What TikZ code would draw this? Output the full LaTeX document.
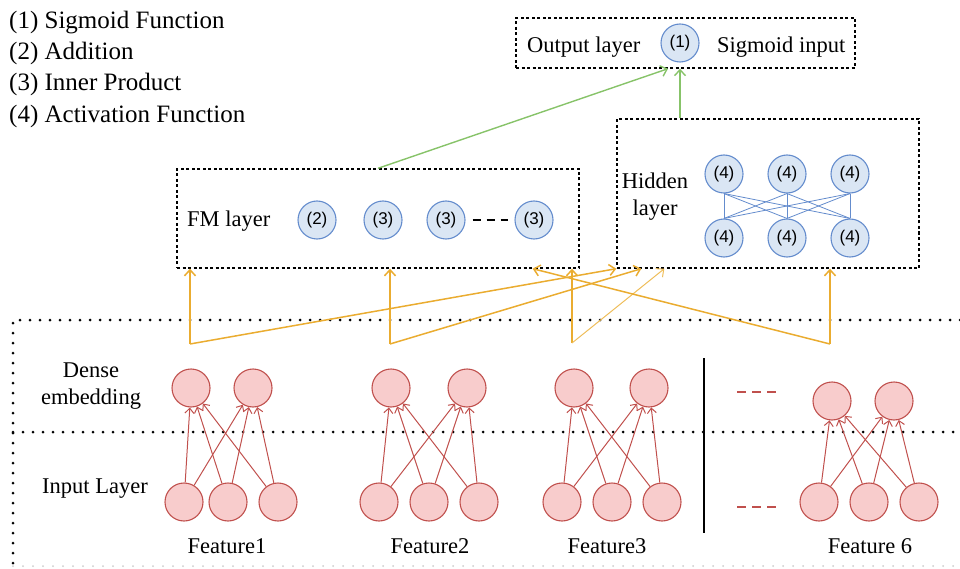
\documentclass[tikz,border=0pt]{standalone}
\usepackage{fontspec}
\setmainfont{Liberation Serif}
\newfontfamily\circfont{Liberation Sans}
\usetikzlibrary{arrows.meta,positioning}

\definecolor{cirblue}{RGB}{218,230,244}
\definecolor{edgeblue}{RGB}{100,140,205}
\definecolor{cirred}{RGB}{248,204,204}
\definecolor{edgered}{RGB}{192,80,77}
\definecolor{linkgold}{RGB}{234,172,48}
\definecolor{linkgreen}{RGB}{135,195,105}

\tikzset{
  opnode/.style={circle,draw=edgeblue,fill=cirblue,line width=1.1pt,minimum size=38pt,inner sep=0pt,font=\circfont\fontsize{17}{20}\selectfont},
  featnode/.style={circle,draw=edgered,fill=cirred,line width=1.1pt,minimum size=38pt,inner sep=0pt},
  layerbox/.style={draw,line width=1.4pt,dash pattern=on 3pt off 2.5pt,inner sep=0pt},
  lbl/.style={font=\fontsize{22.5}{27}\selectfont,inner sep=0pt},
  framedots/.style={line width=3pt,line cap=round,dash pattern=on 0pt off 10pt},
  redlink/.style={draw=edgered,line width=1pt,-{Straight Barb[length=5pt,width=9pt]}},
  goldlink/.style={draw=linkgold,line width=1.5pt,-{Straight Barb[length=6pt,width=11pt]}},
  greenlink/.style={draw=linkgreen,line width=1.4pt,-{Straight Barb[length=6pt,width=11pt]}},
}

\begin{document}
\begin{tikzpicture}[x=1pt,y=-1pt]
  \useasboundingbox (0,0) rectangle (960,569);

  % Legend
  \foreach \i/\txt/\y in {1/Sigmoid Function/29,2/Addition/60,3/Inner Product/91,4/Activation Function/123}
    \node[anchor=base west,inner sep=0pt,font=\fontsize{25}{30}\selectfont] (leg\i) at (9,\y) {(\i) \txt};

  % Output layer
  \node[layerbox,minimum width=339pt,minimum height=50pt] (outbox) at (685.5,43) {};
  \node[opnode] (o1) at (680,43) {(1)};
  \node[lbl,anchor=base west] (outtxt) at (527,53) {Output layer};
  \node[lbl,anchor=base west] (sigtxt) at (717,53) {Sigmoid input};

  % FM layer
  \node[layerbox,minimum width=402pt,minimum height=99pt] (fm) at (378,218.5) {};
  \node[lbl,anchor=base west] (fmtxt) at (187,226) {FM layer};
  \foreach \n/\x/\t in {a/317/2,b/383/3,c/446/3,d/534/3}
    \node[opnode] (fm\n) at (\x,220) {(\t)};
  \draw[line width=2.3pt,dash pattern=on 8pt off 6pt] ([xshift=7pt]fmc.east) -- ([xshift=-6pt]fmd.west);

  % Hidden layer
  \node[layerbox,minimum width=302pt,minimum height=149pt] (hid) at (768,193.5) {};
  \node[lbl,align=center] (hidtxt) at (655,197) {Hidden\\layer};
  \foreach \i/\x in {1/724,2/787,3/850} {
    \node[opnode] (ht\i) at (\x,174) {(4)};
    \node[opnode] (hb\i) at (\x,238) {(4)};
  }
  \foreach \a in {1,2,3}
    \foreach \b in {1,2,3}
      \draw[edgeblue,line width=0.8pt] (ht\a.south) -- (hb\b.north);

  % Green links to the output
  \draw[greenlink] (fm.north) -- ([xshift=-17.5pt]outbox.south);
  \draw[greenlink] (hid.north -| o1) -- (outbox.south -| o1);

  % Dotted frame
  \draw[framedots] (960,320) -- (13,320) -- (13,569);
  \draw[framedots] (13,432) -- (960,432);
  \draw[framedots,gray!40,line width=2pt] (13,566) -- (960,566);
  \node[lbl,align=center] (densetxt) at (91,386) {Dense\\embedding};
  \node[lbl,anchor=base west] (inputtxt) at (42,493) {Input Layer};

  % Features
  \foreach \f/\da/\db/\dy/\ia/\ib/\ic/\lx/\lab in {1/191/253/388/184/228/278/227/Feature1,
      2/391/467/388/379/429/479/430/Feature2,
      3/574/649/388/562/612/662/607/Feature3,
      6/832/894/401/819/869/919/870/Feature 6} {
    \node[featnode] (emb\f1) at (\da,\dy) {};
    \node[featnode] (emb\f2) at (\db,\dy) {};
    \node[featnode] (in\f1) at (\ia,502) {};
    \node[featnode] (in\f2) at (\ib,502) {};
    \node[featnode] (in\f3) at (\ic,502) {};
    \node[lbl,anchor=base] (lab\f) at (\lx,553) {\lab};
    \foreach \i in {1,2,3}
      \foreach \d in {1,2}
        \draw[redlink] (in\f\i) -- (emb\f\d);
  }

  % Separator and ellipsis dashes
  \draw[line width=2pt] (704,358) -- (704,533);
  \draw[edgered,line width=2.5pt,dash pattern=on 9pt off 6pt] (737,392) -- (778,392);
  \draw[edgered,line width=2.5pt,dash pattern=on 9pt off 6pt] (737,507) -- (778,507);

  % Gold links from the embeddings
  \coordinate (j1) at (190,344);
  \coordinate (j2) at (390,344);
  \coordinate (j3) at (572,343);
  \coordinate (j6) at (830,344);
  \draw[goldlink] (j1) -- (j1 |- fm.south);
  \draw[goldlink] (j1) -- (hid.south west);
  \draw[goldlink] (j2) -- (j2 |- fm.south);
  \draw[goldlink] (j2) -- ([xshift=25pt]hid.south west);
  \draw[goldlink] (j3) -- (j3 |- fm.south);
  \draw[goldlink,draw=linkgold!80,line width=1pt] (j3) -- ([xshift=48pt]hid.south west);
  \draw[goldlink] (j6) -- (j6 |- hid.south);
  \draw[goldlink] (j6) -- ([xshift=-47pt]fm.south east);
\end{tikzpicture}
\end{document}
